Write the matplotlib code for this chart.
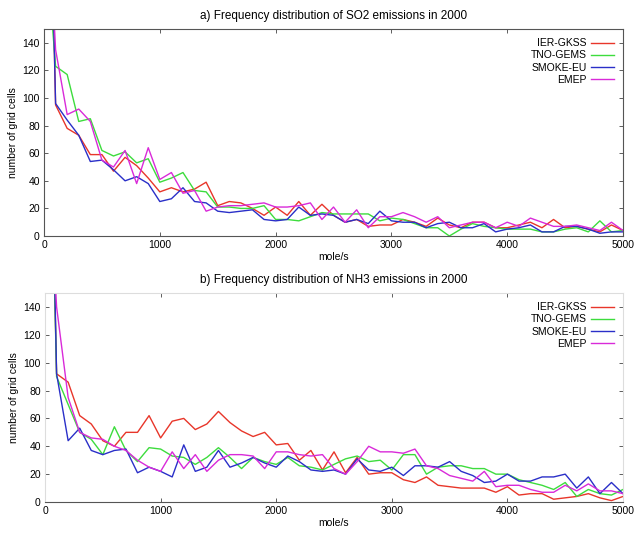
import matplotlib
matplotlib.use("Agg")
import matplotlib.pyplot as plt
import numpy as np

plt.rcParams['font.family'] = ['Liberation Sans', 'DejaVu Sans']

x_vals = list(range(0, 5001, 100))
series_names = ["IER-GKSS", "TNO-GEMS", "SMOKE-EU", "EMEP"]
series_colors = ["#e8362a", "#3ddc3d", "#2a2fc8", "#d92ad9"]

so2_ier = [460, 95, 78, 73, 59, 59, 47, 57, 51, 42, 32, 35, 32, 34, 39, 22, 25, 24, 20, 15,
           21, 15, 25, 15, 23, 15, 10, 12, 7, 8, 8, 12, 10, 7, 13, 8, 6, 10, 10, 6,
           6, 8, 10, 6, 12, 6, 7, 5, 3, 8, 4]
so2_tno = [230, 123, 117, 83, 85, 62, 58, 61, 53, 56, 39, 42, 46, 33, 32, 21, 21, 20, 20, 22,
           12, 12, 11, 14, 17, 16, 16, 16, 16, 11, 13, 12, 9, 6, 6, 0, 5, 9, 7, 6,
           5, 5, 5, 3, 3, 5, 6, 3, 11, 3, 4]
so2_smoke = [460, 96, 84, 73, 54, 55, 48, 40, 43, 38, 25, 27, 35, 25, 24, 18, 17, 18, 19, 12,
             11, 12, 21, 15, 16, 15, 10, 12, 9, 18, 11, 10, 10, 6, 9, 10, 6, 6, 9, 3,
             5, 6, 8, 3, 3, 7, 7, 5, 2, 3, 3]
so2_emep = [300, 135, 88, 92, 83, 55, 50, 62, 38, 64, 41, 46, 31, 33, 18, 21, 22, 22, 23, 24,
            21, 21, 22, 24, 12, 21, 10, 19, 6, 14, 14, 17, 14, 10, 14, 6, 8, 10, 10, 6,
            10, 7, 13, 10, 7, 7, 8, 6, 4, 10, 4]

nh3_ier = [460, 92, 86, 62, 56, 44, 40, 50, 50, 62, 46, 58, 60, 52, 56, 65, 57, 51, 47, 50,
           41, 42, 30, 37, 23, 36, 21, 32, 20, 21, 21, 16, 14, 18, 12, 11, 10, 10, 10, 7,
           11, 5, 6, 6, 2, 3, 4, 6, 3, 1, 4]
nh3_tno = [460, 90, 70, 50, 45, 34, 54, 37, 29, 39, 38, 33, 32, 27, 32, 39, 32, 24, 32, 29,
           27, 32, 26, 25, 23, 27, 31, 33, 29, 30, 23, 34, 34, 20, 25, 26, 26, 24, 24, 20,
           20, 16, 14, 12, 9, 14, 4, 9, 6, 5, 9]
nh3_smoke = [500, 92, 44, 53, 37, 34, 37, 38, 21, 25, 22, 18, 41, 22, 25, 37, 25, 28, 32, 28,
             25, 33, 29, 23, 22, 23, 20, 31, 23, 22, 25, 19, 26, 26, 25, 29, 22, 19, 14, 15,
             20, 15, 15, 18, 18, 20, 10, 18, 6, 14, 6]
nh3_emep = [300, 140, 75, 50, 46, 45, 40, 37, 30, 25, 22, 36, 24, 34, 22, 30, 34, 34, 33, 24,
            36, 36, 34, 33, 34, 24, 20, 29, 40, 36, 36, 35, 38, 26, 24, 19, 17, 15, 22, 11,
            12, 12, 9, 7, 7, 12, 8, 13, 8, 8, 6]

y_ticks = [0, 20, 40, 60, 80, 100, 120, 140]
x_ticks = [0, 1000, 2000, 3000, 4000, 5000]

panels = [
    ("a) Frequency distribution of SO2 emissions in 2000", [so2_ier, so2_tno, so2_smoke, so2_emep],
     [0.0692, 0.558, 0.9104, 0.3877], True),
    ("b) Frequency distribution of NH3 emissions in 2000", [nh3_ier, nh3_tno, nh3_smoke, nh3_emep],
     [0.0708, 0.0599, 0.9088, 0.3914], False),
]

fig = plt.figure(figsize=(6.36, 5.34), dpi=100)
for title, data, rect, full_frame in panels:
    ax = fig.add_axes(rect)
    for name, col, vals in zip(series_names, series_colors, data):
        ax.plot(x_vals, vals, color=col, lw=1.0, label=name)
    ax.set_xlim(0, 5000)
    ax.set_ylim(0, 150)
    ax.set_xticks(x_ticks)
    ax.set_yticks(y_ticks)
    ax.tick_params(direction='in', top=True, right=True, labelsize=7.5, length=3,
                   width=0.6, color='#444444', pad=3)
    for s in ax.spines.values():
        s.set_linewidth(0.8)
        s.set_color('#555555')
    if not full_frame:
        for s in ['top', 'right', 'left']:
            ax.spines[s].set_color('#dddddd')
    ax.set_title(title, fontsize=8.5, pad=7)
    ax.set_xlabel("mole/s", fontsize=7.5, labelpad=1)
    ax.set_ylabel("number of grid cells", fontsize=7.5, labelpad=3)
    leg = ax.legend(loc='upper right', frameon=False, markerfirst=False, fontsize=7.5,
                    handlelength=2.2, handletextpad=0.4, labelspacing=0.2,
                    borderaxespad=0.5)
    for t in leg.get_texts():
        t.set_ha('right')

fig.savefig("out.png", dpi=100)
